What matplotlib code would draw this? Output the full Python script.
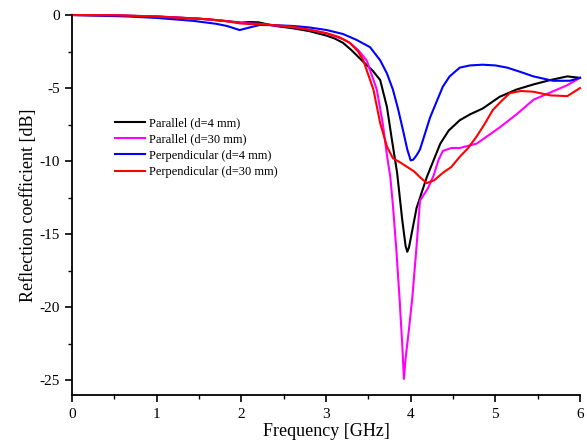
import matplotlib
matplotlib.use("Agg")
import matplotlib.pyplot as plt

plt.rcParams['font.family'] = ['Liberation Serif', 'DejaVu Serif']

# Parallel (d=4 mm) - black
f_par4 = [0, 0.5, 1.0, 1.5, 1.8, 2.0, 2.1, 2.2, 2.4, 2.6, 2.8, 3.0, 3.1, 3.2, 3.3, 3.44, 3.55,
          3.64, 3.72, 3.78, 3.84, 3.9, 3.94, 3.96, 3.98, 4.01, 4.07, 4.19, 4.35, 4.45, 4.58,
          4.7, 4.85, 5.05, 5.25, 5.45, 5.65, 5.85, 6.0]
db_par4 = [0, -0.02, -0.1, -0.25, -0.4, -0.52, -0.48, -0.5, -0.75, -0.9, -1.1, -1.4, -1.6,
           -1.9, -2.4, -3.2, -3.8, -4.45, -6.3, -8.6, -10.8, -14.0, -15.8, -16.2, -15.9,
           -15.0, -13.2, -11.1, -8.8, -7.9, -7.2, -6.8, -6.4, -5.6, -5.1, -4.75, -4.45,
           -4.2, -4.3]

# Parallel (d=30 mm) - magenta
f_par30 = [0, 0.5, 1.0, 1.5, 1.8, 2.0, 2.2, 2.4, 2.6, 2.8, 3.0, 3.1, 3.2, 3.28, 3.38, 3.48,
           3.6, 3.67, 3.72, 3.76, 3.79, 3.83, 3.87, 3.9, 3.92, 3.94, 3.98, 4.02, 4.07,
           4.11, 4.2, 4.27, 4.33, 4.38, 4.48, 4.58, 4.78, 5.05, 5.25, 5.45, 5.65, 5.85, 6.0]
db_par30 = [0, -0.02, -0.1, -0.25, -0.4, -0.55, -0.6, -0.72, -0.82, -1.0, -1.25, -1.45,
            -1.65, -1.9, -2.4, -3.1, -5.1, -7.4, -9.6, -11.1, -13.0, -16.0, -19.5, -22.5,
            -24.9, -23.5, -21.5, -19.3, -15.8, -12.7, -11.9, -11.0, -9.9, -9.3, -9.1, -9.1,
            -8.8, -7.7, -6.8, -5.8, -5.3, -4.8, -4.3]

# Perpendicular (d=4 mm) - blue
f_perp4 = [0, 0.65, 1.0, 1.43, 1.7, 1.83, 1.98, 2.1, 2.22, 2.4, 2.61, 2.8, 3.01, 3.2, 3.36,
           3.52, 3.64, 3.72, 3.79, 3.85, 3.91, 3.96, 4.0, 4.03, 4.07, 4.11, 4.23, 4.38,
           4.46, 4.58, 4.7, 4.85, 5.0, 5.14, 5.3, 5.45, 5.68, 5.88, 6.0]
db_perp4 = [0, -0.1, -0.2, -0.4, -0.6, -0.75, -1.03, -0.85, -0.68, -0.7, -0.75, -0.85, -1.03,
            -1.3, -1.7, -2.2, -3.1, -4.0, -5.1, -6.4, -7.9, -9.2, -9.95, -9.9, -9.6, -9.2,
            -7.0, -4.9, -4.2, -3.6, -3.45, -3.4, -3.45, -3.6, -3.9, -4.2, -4.5, -4.5, -4.3]

# Perpendicular (d=30 mm) - red
f_perp30 = [0, 0.5, 1.04, 1.63, 1.85, 1.98, 2.1, 2.22, 2.4, 2.61, 2.8, 3.01, 3.15, 3.28, 3.38,
            3.44, 3.56, 3.64, 3.72, 3.79, 3.88, 3.96, 4.04, 4.11, 4.19, 4.28, 4.38, 4.48,
            4.58, 4.68, 4.78, 4.88, 4.97, 5.07, 5.17, 5.3, 5.45, 5.65, 5.85, 6.0]
db_perp30 = [0, -0.02, -0.12, -0.3, -0.45, -0.57, -0.62, -0.62, -0.7, -0.8, -1.0, -1.25,
             -1.5, -1.9, -2.5, -3.1, -5.1, -7.4, -9.0, -9.8, -10.1, -10.4, -10.7, -11.1,
             -11.5, -11.3, -10.8, -10.4, -9.7, -9.1, -8.3, -7.4, -6.5, -5.9, -5.35, -5.2,
             -5.25, -5.5, -5.55, -5.0]

labels = ['Parallel (d=4 mm)', 'Parallel (d=30 mm)',
          'Perpendicular (d=4 mm)', 'Perpendicular (d=30 mm)']
colors = ['black', '#ff00ff', '#0000ff', '#ff0000']

xticks = [0, 1, 2, 3, 4, 5, 6]
yticks = [0, -5, -10, -15, -20, -25]

fig = plt.figure(figsize=(5.87, 4.45), dpi=100)
ax = fig.add_axes([72 / 587, 1 - 395 / 445, 508 / 587, 380 / 445])

series = [(f_par4, db_par4), (f_par30, db_par30), (f_perp4, db_perp4), (f_perp30, db_perp30)]
for (fx, dy), lab, c in zip(series, labels, colors):
    ax.plot(fx, dy, color=c, lw=1.5, label=lab, solid_joinstyle='round')

ax.set_xlim(0, 6)
ax.set_ylim(-26, 0)
ax.set_xticks(xticks)
ax.set_xticklabels([str(t) for t in xticks])
ax.set_yticks(yticks)
ax.set_yticklabels([str(t) for t in yticks])
ax.set_xticks([0.5, 1.5, 2.5, 3.5, 4.5, 5.5], minor=True)
ax.set_yticks([-2.5, -7.5, -12.5, -17.5, -22.5], minor=True)
for s in ['top', 'right']:
    ax.spines[s].set_visible(False)
for s in ['left', 'bottom']:
    ax.spines[s].set_linewidth(1.3)
ax.tick_params(which='major', direction='out', length=5, width=1.2, labelsize=11)
ax.tick_params(which='minor', direction='out', length=3, width=1.0)
ax.tick_params(axis='x', pad=4)

ax.set_xlabel('Frequency [GHz]', fontsize=13, labelpad=2)
ax.set_ylabel('Reflection coefficient [dB]', fontsize=13, labelpad=2)

ax.legend(loc='upper left', bbox_to_anchor=(0.085, 0.73), frameon=False, fontsize=9,
          handlelength=2.4, handletextpad=0.3, labelspacing=0.33, borderpad=0,
          borderaxespad=0)

for ln in ax.get_lines():
    ln.set_clip_on(False)

fig.savefig('out.png', dpi=100)
